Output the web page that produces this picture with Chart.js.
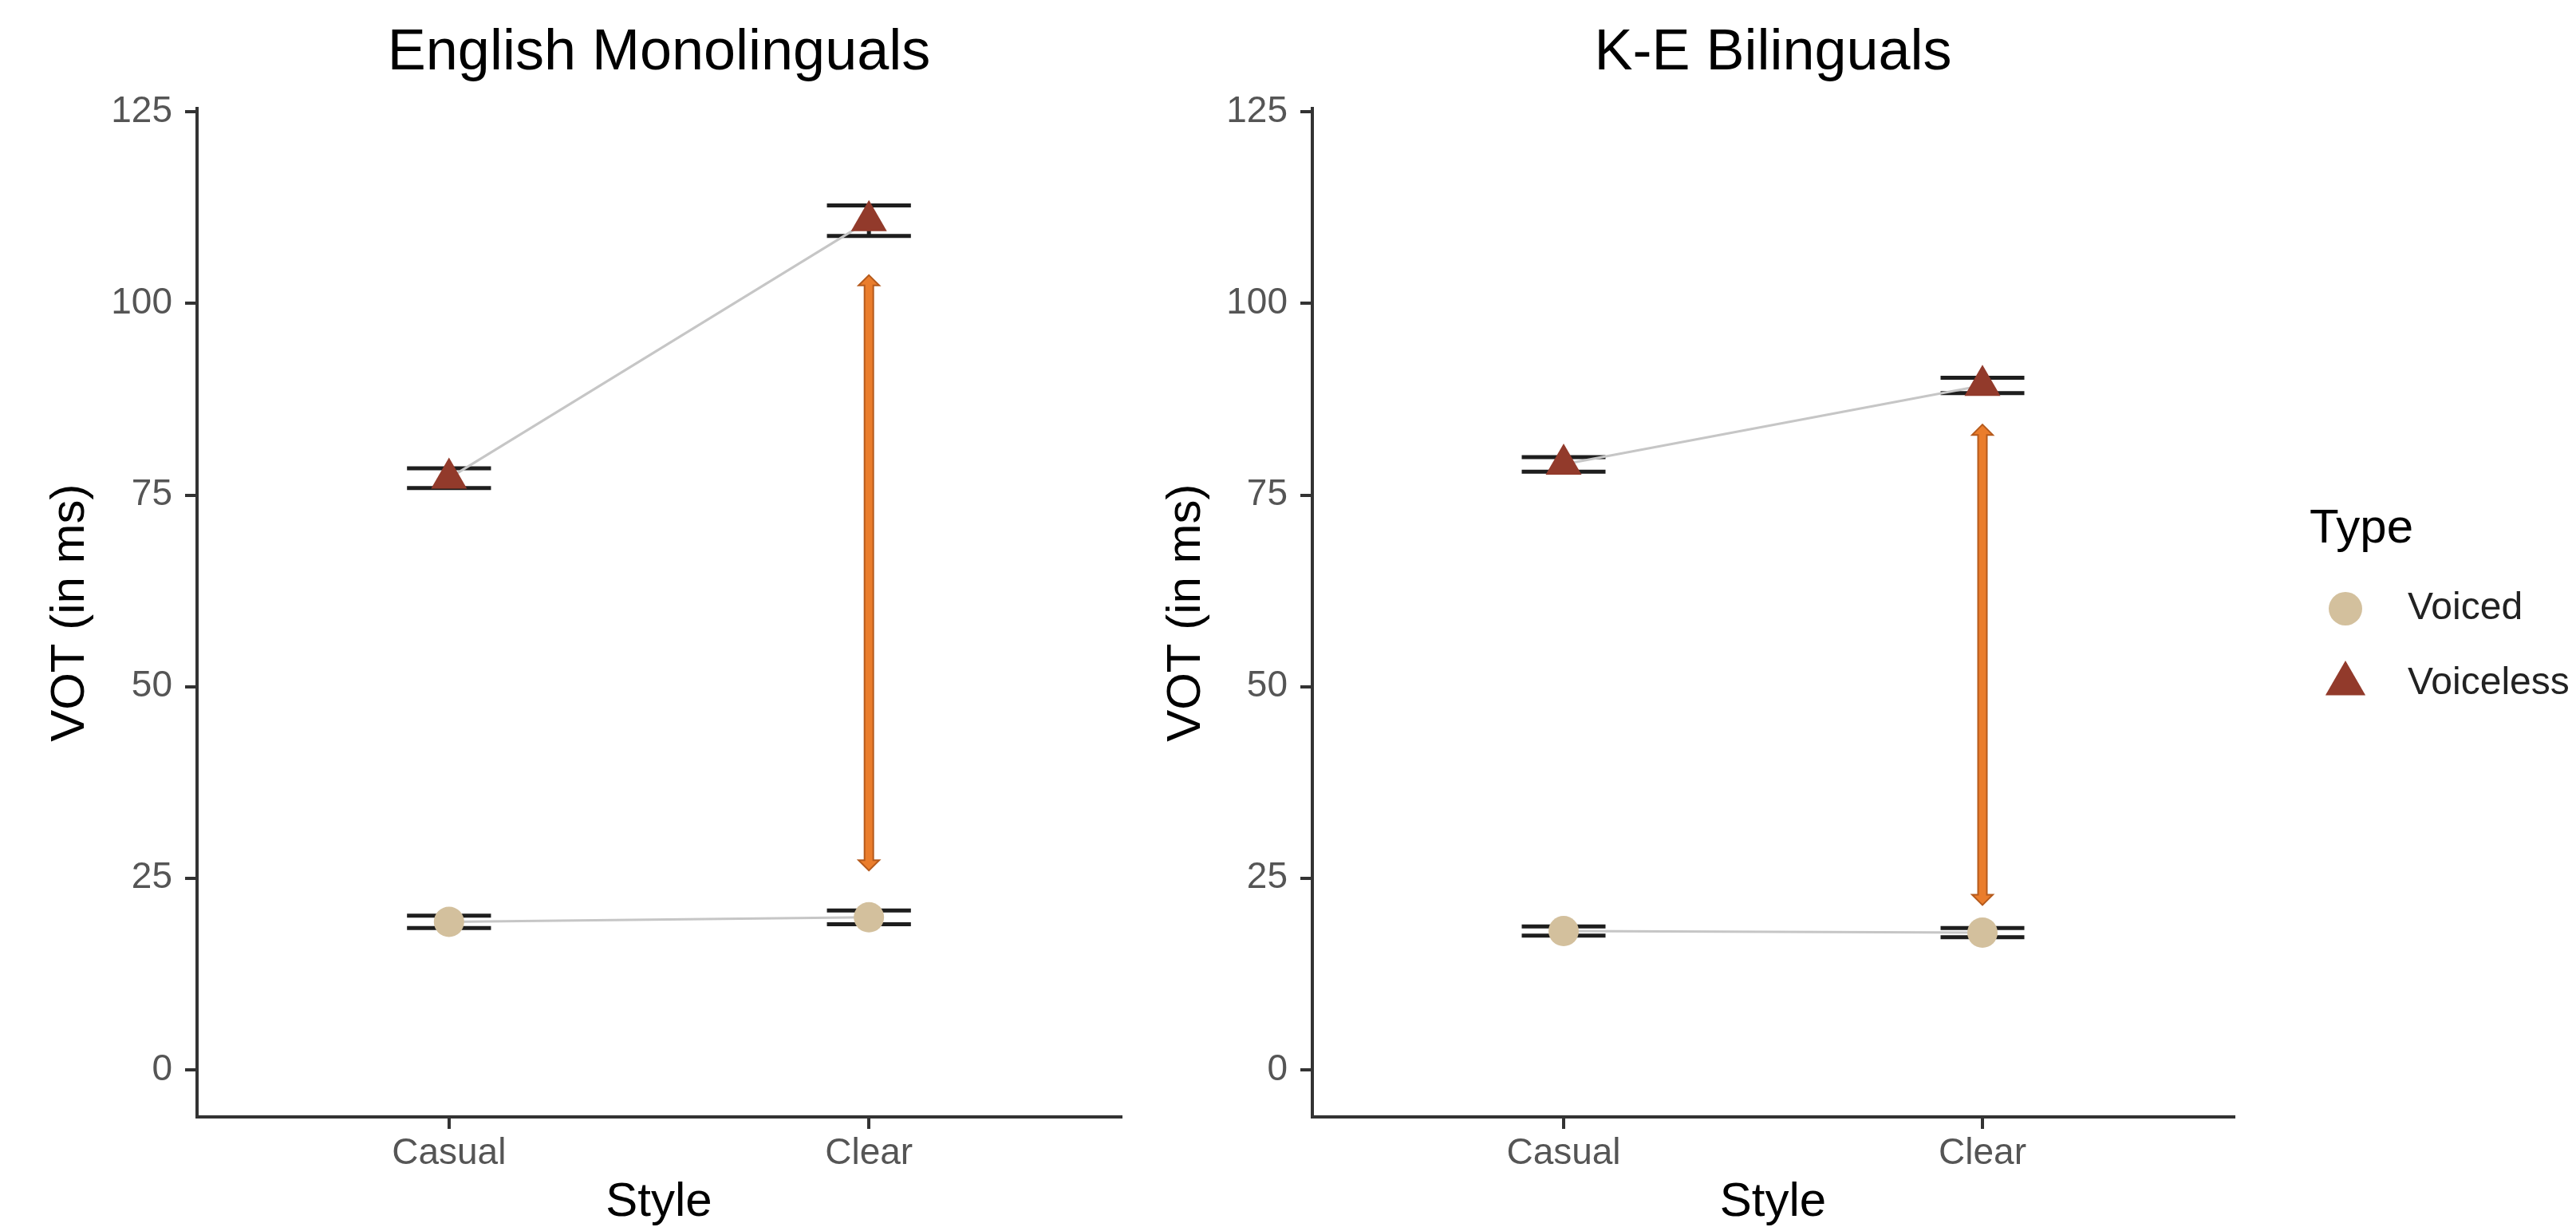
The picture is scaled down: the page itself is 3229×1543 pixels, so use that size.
<!DOCTYPE html>
<html>
<head>
<meta charset="utf-8">
<title>VOT by speaking style</title>
<script src="https://cdn.jsdelivr.net/npm/chart.js@4.4.1/dist/chart.umd.min.js"></script>
<style>
  body { margin: 0; background: #fff; }
  #wrap { position: relative; width: 3229px; height: 1543px; }
  canvas { position: absolute; top: 0; }
  #monoChart { left: 0; }
  #bilChart { left: 1420px; }
</style>
</head>
<body>
<div id="wrap">
  <canvas id="monoChart" width="1420" height="1543"></canvas>
  <canvas id="bilChart" width="1809" height="1543"></canvas>
</div>
<script>
// values
const styles = ['Casual', 'Clear'];
const yTicks = [0, 25, 50, 75, 100, 125];
const typeLabels = ['Voiced', 'Voiceless'];
const typeColors = ['#d3c09d', '#923a2b'];
const typeShapes = ['circle', 'triangle'];

const monoVoiced = [19.3, 19.9];
const monoVoicedSE = [0.8, 0.9];
const monoVoiceless = [77.2, 110.8];
const monoVoicelessSE = [1.3, 2.0];
const monoArrow = [26.0, 103.7];   // gap at Clear

const bilVoiced = [18.1, 17.9];
const bilVoicedSE = [0.6, 0.6];
const bilVoiceless = [79.0, 89.3];
const bilVoicelessSE = [0.95, 1.0];
const bilArrow = [21.5, 84.2];

Chart.defaults.font.family = '"Liberation Sans", Arial, sans-serif';

function makeDataset(k, values, se) {
  return {
    label: typeLabels[k],
    data: values.map((v, i) => ({x: i + 1, y: v})),
    se: se,
    borderColor: '#c6c6c6',
    borderWidth: 3,
    pointStyle: typeShapes[k],
    pointRadius: k == 0 ? 19 : 26,
    pointBackgroundColor: typeColors[k],
    pointBorderWidth: 0,
    tension: 0
  };
}

// error bars, under the lines and points
const errorBars = {
  id: 'errorBars',
  beforeDatasetsDraw(chart) {
    const ctx = chart.ctx, xs = chart.scales.x, ys = chart.scales.y;
    ctx.save();
    ctx.strokeStyle = '#1e1e1e';
    ctx.lineWidth = 5;
    chart.data.datasets.forEach(ds => {
      ds.data.forEach((p, i) => {
        const x0 = xs.getPixelForValue(p.x - 0.1);
        const x1 = xs.getPixelForValue(p.x + 0.1);
        const xm = xs.getPixelForValue(p.x);
        const top = ys.getPixelForValue(p.y + ds.se[i]);
        const bot = ys.getPixelForValue(p.y - ds.se[i]);
        ctx.beginPath();
        ctx.moveTo(x0, top); ctx.lineTo(x1, top);
        ctx.moveTo(x0, bot); ctx.lineTo(x1, bot);
        ctx.moveTo(xm, top); ctx.lineTo(xm, bot);
        ctx.stroke();
      });
    });
    ctx.restore();
  }
};

// orange double arrow showing the voiced / voiceless gap
const gapArrow = {
  id: 'gapArrow',
  afterDatasetsDraw(chart, args, opts) {
    if (!opts.range) return;
    const ctx = chart.ctx, xs = chart.scales.x, ys = chart.scales.y;
    const x = xs.getPixelForValue(opts.at);
    const yTop = ys.getPixelForValue(opts.range[1]);
    const yBot = ys.getPixelForValue(opts.range[0]);
    const sw = 5.5, hw = 13, hh = 13;
    ctx.save();
    ctx.beginPath();
    ctx.moveTo(x, yTop);
    ctx.lineTo(x + hw, yTop + hh);
    ctx.lineTo(x + sw, yTop + hh);
    ctx.lineTo(x + sw, yBot - hh);
    ctx.lineTo(x + hw, yBot - hh);
    ctx.lineTo(x, yBot);
    ctx.lineTo(x - hw, yBot - hh);
    ctx.lineTo(x - sw, yBot - hh);
    ctx.lineTo(x - sw, yTop + hh);
    ctx.lineTo(x - hw, yTop + hh);
    ctx.closePath();
    ctx.fillStyle = '#ea7d2c';
    ctx.fill();
    ctx.strokeStyle = '#b55a1c';
    ctx.lineWidth = 2;
    ctx.stroke();
    ctx.restore();
  }
};

// ggplot-like legend at the right of the second panel
const typeLegend = {
  id: 'typeLegend',
  afterDraw(chart, args, opts) {
    if (!opts.show) return;
    const ctx = chart.ctx, r = chart.chartArea.right;
    ctx.save();
    ctx.textBaseline = 'middle';
    ctx.textAlign = 'left';
    ctx.fillStyle = '#000';
    ctx.font = '60px "Liberation Sans", Arial, sans-serif';
    ctx.fillText('Type', r + 95, 663);
    ctx.font = '48px "Liberation Sans", Arial, sans-serif';
    chart.data.datasets.forEach((ds, k) => {
      const cy = 763 + k * 94, cx = r + 140;
      ctx.fillStyle = ds.pointBackgroundColor;
      ctx.beginPath();
      if (ds.pointStyle == 'circle') {
        ctx.arc(cx, cy, 21, 0, Math.PI * 2);
      } else {
        const rad = 29;
        ctx.moveTo(cx, cy - rad);
        ctx.lineTo(cx + rad * Math.sqrt(3) / 2, cy + rad / 2);
        ctx.lineTo(cx - rad * Math.sqrt(3) / 2, cy + rad / 2);
        ctx.closePath();
      }
      ctx.fill();
      ctx.fillStyle = '#222';
      ctx.fillText(ds.label, r + 218, cy);
    });
    ctx.restore();
  }
};

function makeScales(yWidth, yTitlePad) {
  return {
    x: {
      type: 'linear',
      min: 0.4,
      max: 2.6,
      afterBuildTicks: s => { s.ticks = styles.map((_, i) => ({value: i + 1})); },
      afterFit: s => {
        s.height = 143;
        s.paddingLeft = 0;
        s.paddingRight = 0;
      },
      ticks: {
        callback: v => styles[v - 1],
        color: '#555',
        font: {size: 46},
        padding: 4
      },
      grid: {drawOnChartArea: false, drawTicks: true, tickLength: 15, color: '#333', lineWidth: 4},
      border: {color: '#333', width: 4},
      title: {display: true, text: 'Style', color: '#000', font: {size: 60}, padding: {top: 0, bottom: 0}}
    },
    y: {
      type: 'linear',
      min: -6.15,
      max: 125.4,
      afterBuildTicks: s => { s.ticks = yTicks.map(v => ({value: v})); },
      afterFit: s => { s.width = yWidth; },
      ticks: {color: '#555', font: {size: 46}, padding: 16},
      grid: {drawOnChartArea: false, drawTicks: true, tickLength: 15, color: '#333', lineWidth: 4},
      border: {color: '#333', width: 4},
      title: {display: true, text: 'VOT (in ms)', color: '#000', font: {size: 60}, padding: {top: yTitlePad, bottom: 0}}
    }
  };
}

function render_panel(canvasId, titleText, voiced, voicedSE, voiceless, voicelessSE, arrow, cfg) {
  new Chart(document.getElementById(canvasId), {
    type: 'line',
    data: {
      datasets: [
        makeDataset(0, voiced, voicedSE),
        makeDataset(1, voiceless, voicelessSE)
      ]
    },
    options: {
      responsive: false,
      animation: false,
      events: [],
      layout: {autoPadding: false, padding: {left: 0, top: 0, bottom: 0, right: cfg.padRight}},
      scales: makeScales(cfg.yWidth, cfg.yTitlePad),
      plugins: {
        legend: {display: false},
        tooltip: {enabled: false},
        title: {
          display: true,
          fullSize: false,
          text: titleText,
          color: '#000',
          font: {size: 72, weight: 'normal'},
          padding: {top: 24, bottom: 26}
        },
        gapArrow: {at: 2, range: arrow},
        typeLegend: {show: cfg.legend}
      }
    },
    plugins: [errorBars, gapArrow, typeLegend]
  });
}

render_panel('monoChart', 'English Monolinguals', monoVoiced, monoVoicedSE, monoVoiceless, monoVoicelessSE, monoArrow,
  {padRight: 15, yWidth: 247, yTitlePad: 52, legend: false});
render_panel('bilChart', 'K-E Bilinguals', bilVoiced, bilVoicedSE, bilVoiceless, bilVoicelessSE, bilArrow,
  {padRight: 429, yWidth: 225, yTitlePad: 31, legend: true});
</script>
</body>
</html>
